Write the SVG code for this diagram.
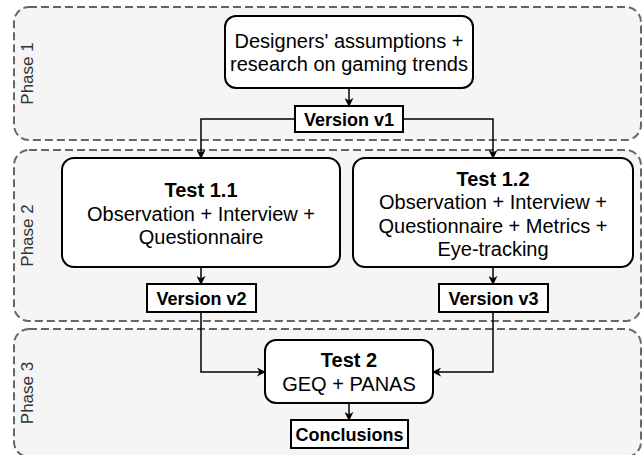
<svg xmlns="http://www.w3.org/2000/svg" width="644" height="455" viewBox="0 0 644 455">
  <defs>
    <marker id="arrow" viewBox="0 0 10 10" refX="9" refY="5" markerWidth="9" markerHeight="9" markerUnits="userSpaceOnUse" orient="auto">
      <path d="M0,0 L10,5 L0,10 L3,5 z" fill="#000"/>
    </marker>
  </defs>
  <style>
    .phase { fill: #f5f5f5; stroke: #666666; stroke-width: 2; stroke-dasharray: 8 4; }
    .phase-label { font-family: "Liberation Sans", Arial, sans-serif; font-size: 17px; fill: #333333; text-anchor: middle; }
    .step { fill: #ffffff; stroke: #000000; stroke-width: 2; }
    .version { fill: #ffffff; stroke: #000000; stroke-width: 2; }
    .txt { font-family: "Liberation Sans", Arial, sans-serif; font-size: 20px; fill: #000000; text-anchor: middle; }
    .bold { font-weight: bold; }
    .vtxt { font-family: "Liberation Sans", Arial, sans-serif; font-size: 18px; font-weight: bold; fill: #000000; text-anchor: middle; }
    .edge { fill: none; stroke: #000000; stroke-width: 1.5; marker-end: url(#arrow); }
  </style>

  <!-- phase containers -->
  <g id="phase1">
    <rect class="phase" x="14" y="7" width="627" height="133" rx="15" ry="15"/>
    <text class="phase-label" transform="translate(33,73.5) rotate(-90)">Phase 1</text>
  </g>
  <g id="phase2">
    <rect class="phase" x="14" y="150" width="627" height="171" rx="15" ry="15"/>
    <text class="phase-label" transform="translate(33,235.5) rotate(-90)">Phase 2</text>
  </g>
  <g id="phase3">
    <rect class="phase" x="14" y="329" width="627" height="128" rx="15" ry="15"/>
    <text class="phase-label" transform="translate(33,393) rotate(-90)">Phase 3</text>
  </g>

  <!-- connectors -->
  <g id="connectors">
    <path class="edge" d="M349,88 L349,106"/>
    <path class="edge" d="M295,119 L201,119 L201,158"/>
    <path class="edge" d="M403,119 L493,119 L493,158"/>
    <path class="edge" d="M201,267 L201,284"/>
    <path class="edge" d="M493,267 L493,284"/>
    <path class="edge" d="M201,312 L201,372 L265,372"/>
    <path class="edge" d="M493,312 L493,372 L433,372"/>
    <path class="edge" d="M349,403 L349,420"/>
  </g>

  <!-- nodes -->
  <g id="assumptions">
    <rect class="step" x="225" y="16" width="248" height="72" rx="11" ry="11"/>
    <text class="txt" x="349" y="48">Designers' assumptions +</text>
    <text class="txt" x="349" y="71">research on gaming trends</text>
  </g>
  <g id="version-v1">
    <rect class="version" x="295" y="106" width="108" height="26"/>
    <text class="vtxt" x="349" y="125.5">Version v1</text>
  </g>
  <g id="test-1-1">
    <rect class="step" x="62" y="158" width="278" height="109" rx="12" ry="12"/>
    <text class="txt bold" x="201" y="197">Test 1.1</text>
    <text class="txt" x="201" y="220.5">Observation + Interview +</text>
    <text class="txt" x="201" y="244">Questionnaire</text>
  </g>
  <g id="test-1-2">
    <rect class="step" x="353" y="158" width="280" height="109" rx="12" ry="12"/>
    <text class="txt bold" x="493" y="185.5">Test 1.2</text>
    <text class="txt" x="493" y="209">Observation + Interview +</text>
    <text class="txt" x="493" y="232.5">Questionnaire + Metrics +</text>
    <text class="txt" x="493" y="256">Eye-tracking</text>
  </g>
  <g id="version-v2">
    <rect class="version" x="147" y="284" width="109" height="28"/>
    <text class="vtxt" x="201.5" y="304.5">Version v2</text>
  </g>
  <g id="version-v3">
    <rect class="version" x="439" y="284" width="109" height="28"/>
    <text class="vtxt" x="493.5" y="304.5">Version v3</text>
  </g>
  <g id="test-2">
    <rect class="step" x="265" y="340" width="168" height="63" rx="11" ry="11"/>
    <text class="txt bold" x="349" y="367">Test 2</text>
    <text class="txt" x="349" y="390.5">GEQ + PANAS</text>
  </g>
  <g id="conclusions">
    <rect class="version" x="291" y="420" width="117" height="28"/>
    <text class="vtxt" x="349.5" y="440.5">Conclusions</text>
  </g>
</svg>
